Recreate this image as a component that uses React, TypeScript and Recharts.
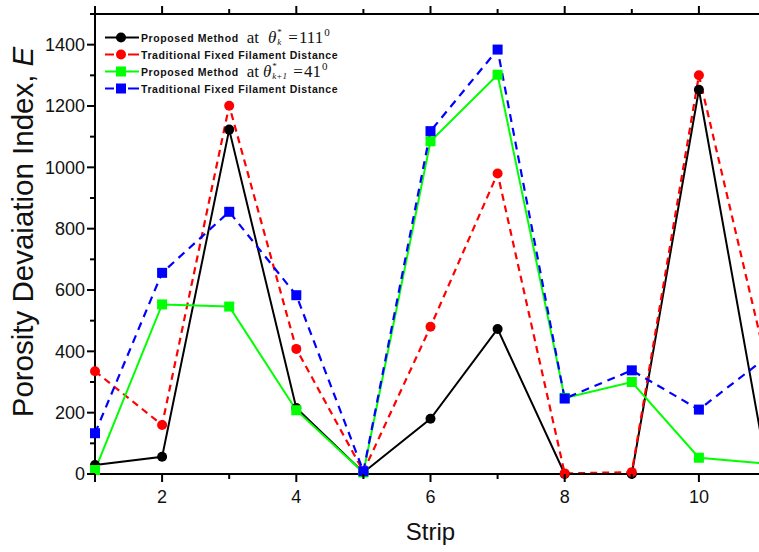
import React from 'react';
import { LineChart, Line, XAxis, YAxis } from 'recharts';

const strips = [1, 2, 3, 4, 5, 6, 7, 8, 9, 10, 11];
const proposed111 = [29, 56, 1123, 215, 5, 180, 473, 0, 0, 1253, 34];
const traditional111 = [335, 160, 1201, 408, 8, 480, 980, 2, 6, 1300, 368];
const proposed41 = [13, 553, 546, 208, 5, 1085, 1302, 248, 300, 53, 34];
const traditional41 = [133, 656, 855, 583, 9, 1118, 1384, 246, 338, 210, 379];

const yTicks = [0, 100, 200, 300, 400, 500, 600, 700, 800, 900, 1000, 1100, 1200, 1300, 1400, 1500];
const yLabelTicks = [0, 200, 400, 600, 800, 1000, 1200, 1400];
const xTicks = [1, 2, 3, 4, 5, 6, 7, 8, 9, 10, 11];
const xLabelTicks = [2, 4, 6, 8, 10];

const seriesNames = [
  'Proposed Method',
  'Traditional Fixed Filament Distance',
  'Proposed Method',
  'Traditional Fixed Filament Distance',
];
const seriesColors = ['#000000', '#ff0000', '#00ff00', '#0000ff'];
const angleSubs = ['k', '', 'k+1', ''];
const angleValues = ['111', '', '41', ''];

const data = strips.map((s, i) => ({
  strip: s,
  p111: proposed111[i],
  t111: traditional111[i],
  p41: proposed41[i],
  t41: traditional41[i],
}));

const SANS = '"Liberation Sans", Arial, sans-serif';
const SERIF = '"Liberation Serif", "Times New Roman", serif';

const makeCircle = (color: string) => (props: any) => {
  const { cx, cy, index } = props;
  if (cx == null || cy == null) return <g key={index} />;
  return <circle key={index} cx={cx} cy={cy} r={5} fill={color} stroke="none" />;
};
const makeSquare = (color: string) => (props: any) => {
  const { cx, cy, index } = props;
  if (cx == null || cy == null) return <g key={index} />;
  return <rect key={index} x={cx - 5} y={cy - 5} width={10} height={10} fill={color} stroke="none" />;
};

const YTick = (props: any) => {
  const { x, y, payload } = props;
  const v = payload.value;
  const major = yLabelTicks.includes(v);
  const len = major ? 8 : 5;
  return (
    <g>
      <line x1={x - len} y1={y} x2={x} y2={y} stroke="#000" strokeWidth={2} />
      {major && (
        <text x={x - 10} y={y} dy="0.35em" textAnchor="end" fontFamily={SANS} fontSize={18} fill="#111">
          {v}
        </text>
      )}
    </g>
  );
};

const XTick = (props: any) => {
  const { x, y, payload } = props;
  const v = payload.value;
  const major = xLabelTicks.includes(v) || v === 1;
  const len = major ? 8 : 5;
  return (
    <g>
      <line x1={x} y1={y} x2={x} y2={y + len} stroke="#000" strokeWidth={2} />
      {xLabelTicks.includes(v) && (
        <text x={x} y={y + 23} dy="0.35em" textAnchor="middle" fontFamily={SANS} fontSize={18} fill="#111">
          {v}
        </text>
      )}
    </g>
  );
};

const TopTick = (props: any) => {
  const { x, y, payload } = props;
  const v = payload.value;
  const major = xLabelTicks.includes(v) || v === 1;
  const len = major ? 8 : 5;
  return <line x1={x} y1={y - len} x2={x} y2={y} stroke="#000" strokeWidth={2} />;
};

const renderYLabel = (props: any) => {
  const vb = props.viewBox || {};
  const cx = (vb.x || 0) + 33;
  const cy = (vb.y || 0) + (vb.height || 0) / 2 - 12;
  return (
    <text
      x={cx}
      y={cy}
      transform={`rotate(-90 ${cx} ${cy})`}
      textAnchor="middle"
      fontFamily={SANS}
      fontSize={29.5}
      fill="#111"
    >
      Porosity Devaiation Index, <tspan fontStyle="italic">E</tspan>
    </text>
  );
};

const renderXLabel = (props: any) => {
  const vb = props.viewBox || {};
  const cx = (vb.x || 0) + (vb.width || 0) / 2;
  const cy = (vb.y || 0) + 66;
  return (
    <text x={cx} y={cy} textAnchor="middle" fontFamily={SANS} fontSize={24} fill="#111">
      Strip
    </text>
  );
};

const LegendSymbol = ({ color, dashed, square }: { color: string; dashed: boolean; square: boolean }) => (
  <svg width={38} height={17} style={{ display: 'block', flex: 'none' }}>
    {dashed ? (
      <>
        <line x1={2} y1={8.5} x2={11} y2={8.5} stroke={color} strokeWidth={2} />
        <line x1={25} y1={8.5} x2={36} y2={8.5} stroke={color} strokeWidth={2} />
      </>
    ) : (
      <line x1={2} y1={8.5} x2={36} y2={8.5} stroke={color} strokeWidth={2} />
    )}
    {square ? (
      <rect x={13} y={3.5} width={10} height={10} fill={color} />
    ) : (
      <circle cx={18} cy={8.5} r={5} fill={color} />
    )}
  </svg>
);

const AngleText = ({ sub, value, gap }: { sub: string; value: string; gap: number }) => (
  <span
    style={{
      fontFamily: SERIF,
      fontSize: 17,
      display: 'inline-flex',
      alignItems: 'center',
      whiteSpace: 'nowrap',
      color: '#111',
      height: 17,
    }}
  >
    <span>at</span>
    <span style={{ display: 'inline-block', width: gap }} />
    <i>θ</i>
    <span style={{ position: 'relative', display: 'inline-block', width: sub.length > 1 ? 17 : 7, height: 17, marginLeft: 1 }}>
      <span style={{ position: 'absolute', left: 0, top: -1, fontSize: 9, lineHeight: '9px' }}>*</span>
      <i style={{ position: 'absolute', left: 0, top: 9, fontSize: 9, lineHeight: '9px' }}>{sub}</i>
    </span>
    <span style={{ display: 'inline-block', width: 4 }} />
    <span>=</span>
    <span style={{ marginLeft: 1 }}>{value}</span>
    <span style={{ position: 'relative', display: 'inline-block', width: 7, height: 17 }}>
      <span style={{ position: 'absolute', left: 1, top: -2, fontSize: 11, lineHeight: '11px' }}>0</span>
    </span>
  </span>
);

export default function App() {
  return (
    <div
      style={{
        position: 'fixed',
        left: 0,
        top: 0,
        width: 759,
        height: 552,
        overflow: 'hidden',
        background: '#fff',
      }}
    >
      <LineChart width={790} height={552} data={data} margin={{ top: 4, right: 24, bottom: 0, left: 0 }}>
        <XAxis
          xAxisId="bottom"
          dataKey="strip"
          type="number"
          domain={[1, 11]}
          ticks={xTicks}
          interval={0}
          height={78}
          tickSize={0}
          tickMargin={0}
          tickLine={false}
          tick={<XTick />}
          axisLine={{ stroke: '#000', strokeWidth: 2 }}
          label={renderXLabel}
        />
        <XAxis
          xAxisId="top"
          orientation="top"
          dataKey="strip"
          type="number"
          domain={[1, 11]}
          ticks={xTicks}
          interval={0}
          height={10}
          tickSize={0}
          tickMargin={0}
          tickLine={false}
          tick={<TopTick />}
          axisLine={{ stroke: '#000', strokeWidth: 2 }}
        />
        <YAxis
          type="number"
          domain={[0, 1500]}
          ticks={yTicks}
          interval={0}
          width={95}
          tickSize={0}
          tickMargin={0}
          tickLine={false}
          tick={<YTick />}
          axisLine={{ stroke: '#000', strokeWidth: 2 }}
          label={renderYLabel}
        />
        <Line
          xAxisId="bottom"
          dataKey="p111"
          name={seriesNames[0]}
          stroke={seriesColors[0]}
          strokeWidth={2}
          dot={makeCircle(seriesColors[0])}
          isAnimationActive={false}
        />
        <Line
          xAxisId="bottom"
          dataKey="t111"
          name={seriesNames[1]}
          stroke={seriesColors[1]}
          strokeWidth={2.2}
          strokeDasharray="7 5"
          dot={makeCircle(seriesColors[1])}
          isAnimationActive={false}
        />
        <Line
          xAxisId="bottom"
          dataKey="p41"
          name={seriesNames[2]}
          stroke={seriesColors[2]}
          strokeWidth={2}
          dot={makeSquare(seriesColors[2])}
          isAnimationActive={false}
        />
        <Line
          xAxisId="bottom"
          dataKey="t41"
          name={seriesNames[3]}
          stroke={seriesColors[3]}
          strokeWidth={2.2}
          strokeDasharray="8 6"
          dot={makeSquare(seriesColors[3])}
          isAnimationActive={false}
        />
      </LineChart>
      <div style={{ position: 'absolute', left: 103, top: 29 }}>
        {seriesNames.map((name, i) => (
          <div key={i} style={{ display: 'flex', alignItems: 'center', height: 17 }}>
            <LegendSymbol color={seriesColors[i]} dashed={i % 2 === 1} square={i >= 2} />
            <span
              style={{
                fontFamily: SANS,
                fontWeight: 'bold',
                fontSize: 10.5,
                letterSpacing: 0.6,
                color: '#111',
                whiteSpace: 'nowrap',
                marginRight: angleSubs[i] ? 8 : 0,
              }}
            >
              {name}
            </span>
            {angleSubs[i] && <AngleText sub={angleSubs[i]} value={angleValues[i]} gap={i === 0 ? 9 : 4} />}
          </div>
        ))}
      </div>
    </div>
  );
}
